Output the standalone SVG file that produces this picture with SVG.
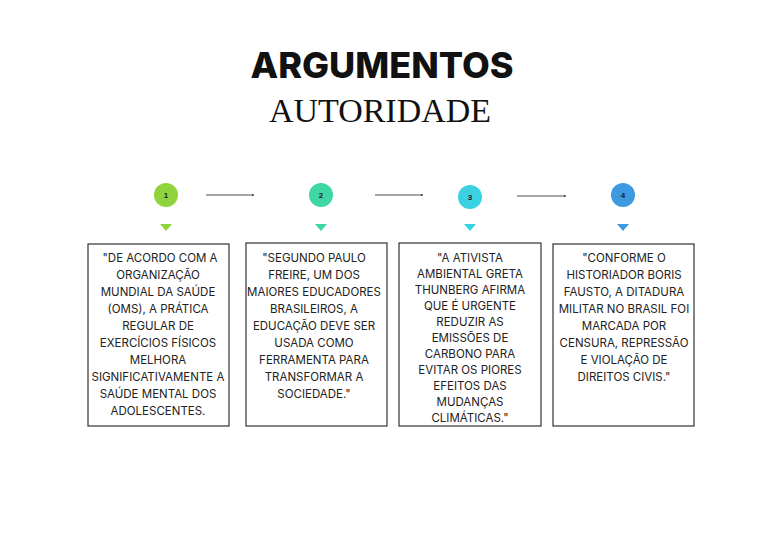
<svg xmlns="http://www.w3.org/2000/svg" width="768" height="543" viewBox="0 0 768 543">
<style>
.t{font-family:"Inter","Liberation Sans",sans-serif;font-size:11.5px;fill:#222;text-anchor:middle}
.box{fill:#fff;stroke:#333;stroke-width:1.2}
.n{font-family:"Liberation Sans",sans-serif;font-size:8px;font-weight:bold;fill:#222;text-anchor:middle}
.c{stroke:#222;stroke-width:0.8;fill:none}
</style>
<defs><marker id="a" markerWidth="4" markerHeight="4" refX="3" refY="2" orient="auto"><path d="M0,0.5L3,2L0,3.5z" fill="#222"/></marker></defs>
<rect width="768" height="543" fill="#fff"/>
<text x="382" y="78" font-family="Inter,'Liberation Sans',sans-serif" font-weight="800" font-size="36" text-anchor="middle" fill="#111">ARGUMENTOS</text>
<text x="380" y="122" font-family="'Liberation Serif',serif" font-size="34" text-anchor="middle" fill="#111">AUTORIDADE</text>
<g id="connectors">
<line class="c" x1="206" y1="195" x2="254" y2="195" marker-end="url(#a)"/>
<line class="c" x1="375" y1="195" x2="423" y2="195" marker-end="url(#a)"/>
<line class="c" x1="517" y1="196" x2="566" y2="196" marker-end="url(#a)"/>
</g>
<g id="node1">
<circle cx="166" cy="195" r="12" fill="#8fd43c"/><text class="n" x="166" y="198">1</text>
<path d="M160,224H172L166,231z" fill="#8fd43c"/>
<rect class="box" x="88" y="244" width="141" height="182"/>
<text class="t"><tspan x="160" y="262">"DE ACORDO COM A</tspan><tspan x="158" y="279">ORGANIZAÇÃO</tspan><tspan x="158" y="296">MUNDIAL DA SAÚDE</tspan><tspan x="158" y="313">(OMS), A PRÁTICA</tspan><tspan x="158" y="330">REGULAR DE</tspan><tspan x="158" y="347">EXERCÍCIOS FÍSICOS</tspan><tspan x="158" y="364">MELHORA</tspan><tspan x="158" y="381">SIGNIFICATIVAMENTE A</tspan><tspan x="158" y="398">SAÚDE MENTAL DOS</tspan><tspan x="158" y="415">ADOLESCENTES.</tspan></text>
</g>
<g id="node2">
<circle cx="321" cy="195" r="12" fill="#3ed6a2"/><text class="n" x="321" y="198">2</text>
<path d="M315,224H327L321,231z" fill="#3ed6a2"/>
<rect class="box" x="246" y="243" width="141" height="183"/>
<text class="t"><tspan x="314" y="262">"SEGUNDO PAULO</tspan><tspan x="314" y="279">FREIRE, UM DOS</tspan><tspan x="314" y="296">MAIORES EDUCADORES</tspan><tspan x="314" y="313">BRASILEIROS, A</tspan><tspan x="314" y="330">EDUCAÇÃO DEVE SER</tspan><tspan x="314" y="347">USADA COMO</tspan><tspan x="314" y="364">FERRAMENTA PARA</tspan><tspan x="314" y="381">TRANSFORMAR A</tspan><tspan x="314" y="398">SOCIEDADE."</tspan></text>
</g>
<g id="node3">
<circle cx="470" cy="197" r="12" fill="#3ad2e2"/><text class="n" x="470" y="200">3</text>
<path d="M464,224H476L470,231z" fill="#3ad2e2"/>
<rect class="box" x="399" y="243" width="142" height="183"/>
<text class="t"><tspan x="470" y="262">"A ATIVISTA</tspan><tspan x="470" y="278">AMBIENTAL GRETA</tspan><tspan x="470" y="294">THUNBERG AFIRMA</tspan><tspan x="470" y="310">QUE É URGENTE</tspan><tspan x="470" y="326">REDUZIR AS</tspan><tspan x="470" y="342">EMISSÕES DE</tspan><tspan x="470" y="358">CARBONO PARA</tspan><tspan x="470" y="374">EVITAR OS PIORES</tspan><tspan x="470" y="390">EFEITOS DAS</tspan><tspan x="470" y="406">MUDANÇAS</tspan><tspan x="470" y="422">CLIMÁTICAS."</tspan></text>
</g>
<g id="node4">
<circle cx="623" cy="195" r="12" fill="#3d9ae0"/><text class="n" x="623" y="198">4</text>
<path d="M617,224H629L623,231z" fill="#3d9ae0"/>
<rect class="box" x="553" y="244" width="141" height="182"/>
<text class="t"><tspan x="624" y="262">"CONFORME O</tspan><tspan x="624" y="279">HISTORIADOR BORIS</tspan><tspan x="624" y="296">FAUSTO, A DITADURA</tspan><tspan x="624" y="313">MILITAR NO BRASIL FOI</tspan><tspan x="624" y="330">MARCADA POR</tspan><tspan x="624" y="347">CENSURA, REPRESSÃO</tspan><tspan x="624" y="364">E VIOLAÇÃO DE</tspan><tspan x="624" y="381">DIREITOS CIVIS."</tspan></text>
</g>
</svg>
